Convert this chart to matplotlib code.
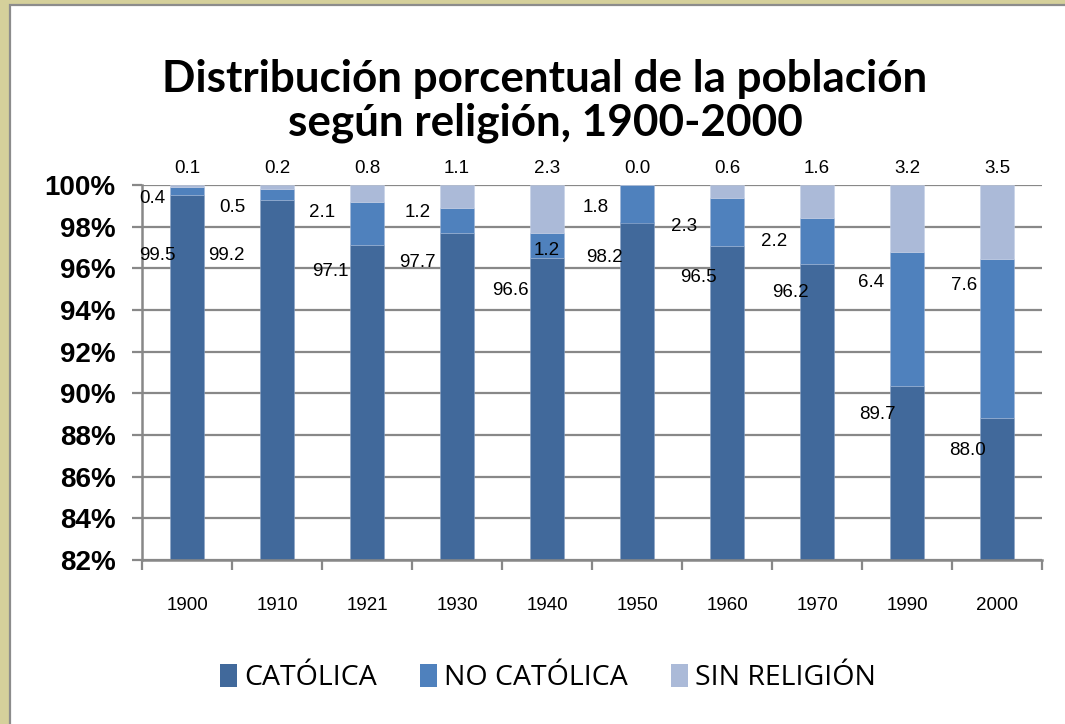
import numpy as np
import matplotlib
matplotlib.use("Agg")
import matplotlib.pyplot as plt
from matplotlib.patches import Rectangle, Patch

# data (percent of population)
years = ["1900", "1910", "1921", "1930", "1940", "1950", "1960", "1970", "1990", "2000"]
catolica = [99.5, 99.2, 97.1, 97.7, 96.6, 98.2, 96.5, 96.2, 89.7, 88.0]
no_catolica = [0.4, 0.5, 2.1, 1.2, 1.2, 1.8, 2.3, 2.2, 6.4, 7.6]
sin_religion = [0.1, 0.2, 0.8, 1.1, 2.3, 0.0, 0.6, 1.6, 3.2, 3.5]
series_names = ["CATÓLICA", "NO CATÓLICA", "SIN RELIGIÓN"]

# where the (hand placed) data labels sit: x shift from the bar, y in %
cat_lbl_dx = [-0.33, -0.56, -0.41, -0.44, -0.41, -0.36, -0.32, -0.30, -0.33, -0.33]
cat_lbl_y = [96.64, 96.64, 95.83, 96.26, 94.96, 96.50, 95.54, 94.82, 89.00, 87.25]
noc_lbl_dx = [-0.38, -0.50, -0.50, -0.44, 0.0, -0.46, -0.48, -0.48, -0.40, -0.37]
noc_lbl_y = [99.33, 98.94, 98.66, 98.66, 96.88, 98.94, 97.99, 97.27, 95.30, 95.16]

colors = ["#41699b", "#4f81bd", "#abbad8"]

W, H = 1065, 724
fig = plt.figure(figsize=(W / 100, H / 100), dpi=100)
fig.patch.set_facecolor("#d5d09b")
# white chart panel with grey border
fig.patches.append(Rectangle((10 / W, -0.05), 1.1, 1 - 5 / H + 0.05,
                             transform=fig.transFigure, facecolor="white",
                             edgecolor="#8c8c8c", linewidth=1.6, zorder=-10))

ax = fig.add_axes([142 / W, 1 - 560 / H, 900 / W, 375 / H])
ax.set_facecolor("none")

cat = np.array(catolica)
noc = np.array(no_catolica)
sin = np.array(sin_religion)
total = cat + noc + sin
p_cat = cat / total * 100
p_noc = noc / total * 100
p_sin = sin / total * 100

x = np.arange(len(years))
bw = 0.38
ax.bar(x, p_cat, bw, color=colors[0], edgecolor="#8aa2c4", linewidth=0.4, zorder=2)
ax.bar(x, p_noc, bw, bottom=p_cat, color=colors[1], edgecolor="#9fb5d6",
       linewidth=0.4, zorder=2)
ax.bar(x, p_sin, bw, bottom=p_cat + p_noc, color=colors[2], edgecolor="#c5d0e6",
       linewidth=0.4, zorder=2)

ax.set_ylim(82, 100)
ax.set_xlim(-0.5, len(years) - 0.5)
ax.set_yticks(np.arange(82, 101, 2))
ax.set_yticklabels([f"{v}%" for v in range(82, 101, 2)],
                   fontdict=dict(family="Liberation Sans", weight="bold", size=20))
ax.yaxis.grid(True, color="#888888", linewidth=1.6, zorder=1)
ax.tick_params(axis="y", length=7, width=1.6, color="#888888", pad=12)

ax.set_xticks(np.arange(-0.5, len(years), 1))
ax.set_xticklabels([])
ax.set_xticks(x, minor=True)
ax.set_xticklabels(years, minor=True, family="Liberation Sans", size=13.5)
ax.tick_params(axis="x", which="major", length=7, width=1.6, color="#888888")
ax.tick_params(axis="x", which="minor", length=0, pad=27)

for s in ["top", "right"]:
    ax.spines[s].set_visible(False)
for s in ["left", "bottom"]:
    ax.spines[s].set_color("#888888")
    ax.spines[s].set_linewidth(1.8)

lbl = dict(family="Liberation Sans", size=13.5, ha="center", va="center", zorder=3)
for i in range(len(years)):
    ax.text(x[i] + cat_lbl_dx[i], cat_lbl_y[i], f"{catolica[i]:.1f}", **lbl)
    ax.text(x[i] + noc_lbl_dx[i], noc_lbl_y[i], f"{no_catolica[i]:.1f}", **lbl)
    ax.annotate(f"{sin_religion[i]:.1f}", (x[i], 100), xytext=(0, 12),
                textcoords="offset points", annotation_clip=False, **lbl)

fig.text(545 / W, 1 - 101 / H,
         "Distribución porcentual de la población\nsegún religión, 1900-2000",
         ha="center", va="center", family="Lato", weight="bold", size=31.7,
         linespacing=1.08)

handles = [Patch(facecolor=c) for c in colors]
fig.legend(handles, series_names, loc="center", bbox_to_anchor=(548 / W, 1 - 678 / H),
           ncol=3, frameon=False, prop=dict(family="Open Sans", size=20.5),
           handlelength=0.6, handleheight=0.85, handletextpad=0.25,
           columnspacing=1.5)

fig.savefig("out.png", dpi=100, facecolor=fig.get_facecolor())
